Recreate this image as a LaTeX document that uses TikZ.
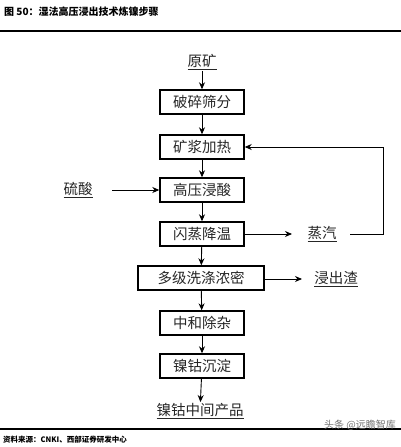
\documentclass[tikz,border=0pt]{standalone}
\usepackage{fontspec}
\setmainfont{Noto Sans CJK SC}
\newfontfamily\cjk{Noto Sans CJK SC}
\usetikzlibrary{arrows.meta}
\begin{document}
\begin{tikzpicture}[x=1pt,y=-1pt,
  proc/.style={draw=black,line width=1.4pt,minimum width=84pt,minimum height=24pt,inner sep=0pt,font=\fontsize{14.5}{15}\selectfont,text=black!85},
  lbl/.style={inner sep=1pt,font=\fontsize{14.5}{15}\selectfont,text=black!85},
  arr/.style={draw=black,line width=0.9pt,-{Stealth[length=7pt,width=6pt]}},
  ln/.style={draw=black,line width=0.9pt}]
\useasboundingbox (0,0) rectangle (401,447);
\node[anchor=west,inner sep=0pt,font=\fontsize{10}{11}\selectfont\bfseries] (title) at (4,12) {图 50：湿法高压浸出技术炼镍步骤};
\draw[line width=1.3pt] (0,31) -- (401,31);
\draw[line width=1.1pt] (0,429) -- (401,429);
\node[anchor=west,inner sep=0pt,font=\fontsize{7.5}{8}\selectfont\bfseries] (src) at (3,440) {资料来源：CNKI、西部证券研发中心};
\node[anchor=east,inner sep=0pt,font=\fontsize{10}{11}\selectfont,text=black!55] (wm) at (396,425) {头条 @远瞻智库};

\node[lbl] (ore) at (202,62) {\underline{原矿}};
\node[proc] (b1) at (202,102) {破碎筛分};
\node[proc] (b2) at (202,147) {矿浆加热};
\node[proc] (b3) at (202,190) {高压浸酸};
\node[proc] (b4) at (202,234) {闪蒸降温};
\node[proc,minimum width=126pt] (b5) at (201,278) {多级洗涤浓密};
\node[proc] (b6) at (202,323) {中和除杂};
\node[proc] (b7) at (202,366) {镍钴沉淀};
\node[lbl] (prod) at (200,411) {\underline{镍钴中间产品}};
\node[lbl] (acid) at (78,190) {\underline{硫酸}};
\node[lbl] (steam) at (322,234) {\underline{蒸汽}};
\node[lbl] (res) at (336,279) {\underline{浸出渣}};
\coordinate (acidS) at (112,190);
\coordinate (stE) at (292,234);
\coordinate (stS) at (350,234);
\coordinate (stC) at (383,234);
\coordinate (stT) at (383,147);
\coordinate (resE) at (302,279);

\draw[arr] (ore) -- (b1);
\draw[arr] (b1) -- (b2);
\draw[arr] (b2) -- (b3);
\draw[arr] (b3) -- (b4);
\draw[arr] (b4) -- (b5);
\draw[arr] (b5) -- (b6);
\draw[arr] (b6) -- (b7);
\draw[arr] (b7) -- (prod);
\draw[arr] (acidS) -- (b3);
\draw[arr] (b4) -- (stE);
\draw[arr] (stS) -- (stC) -- (stT) -- (b2);
\draw[arr] (b5.east |- resE) -- (resE);
\end{tikzpicture}
\end{document}
